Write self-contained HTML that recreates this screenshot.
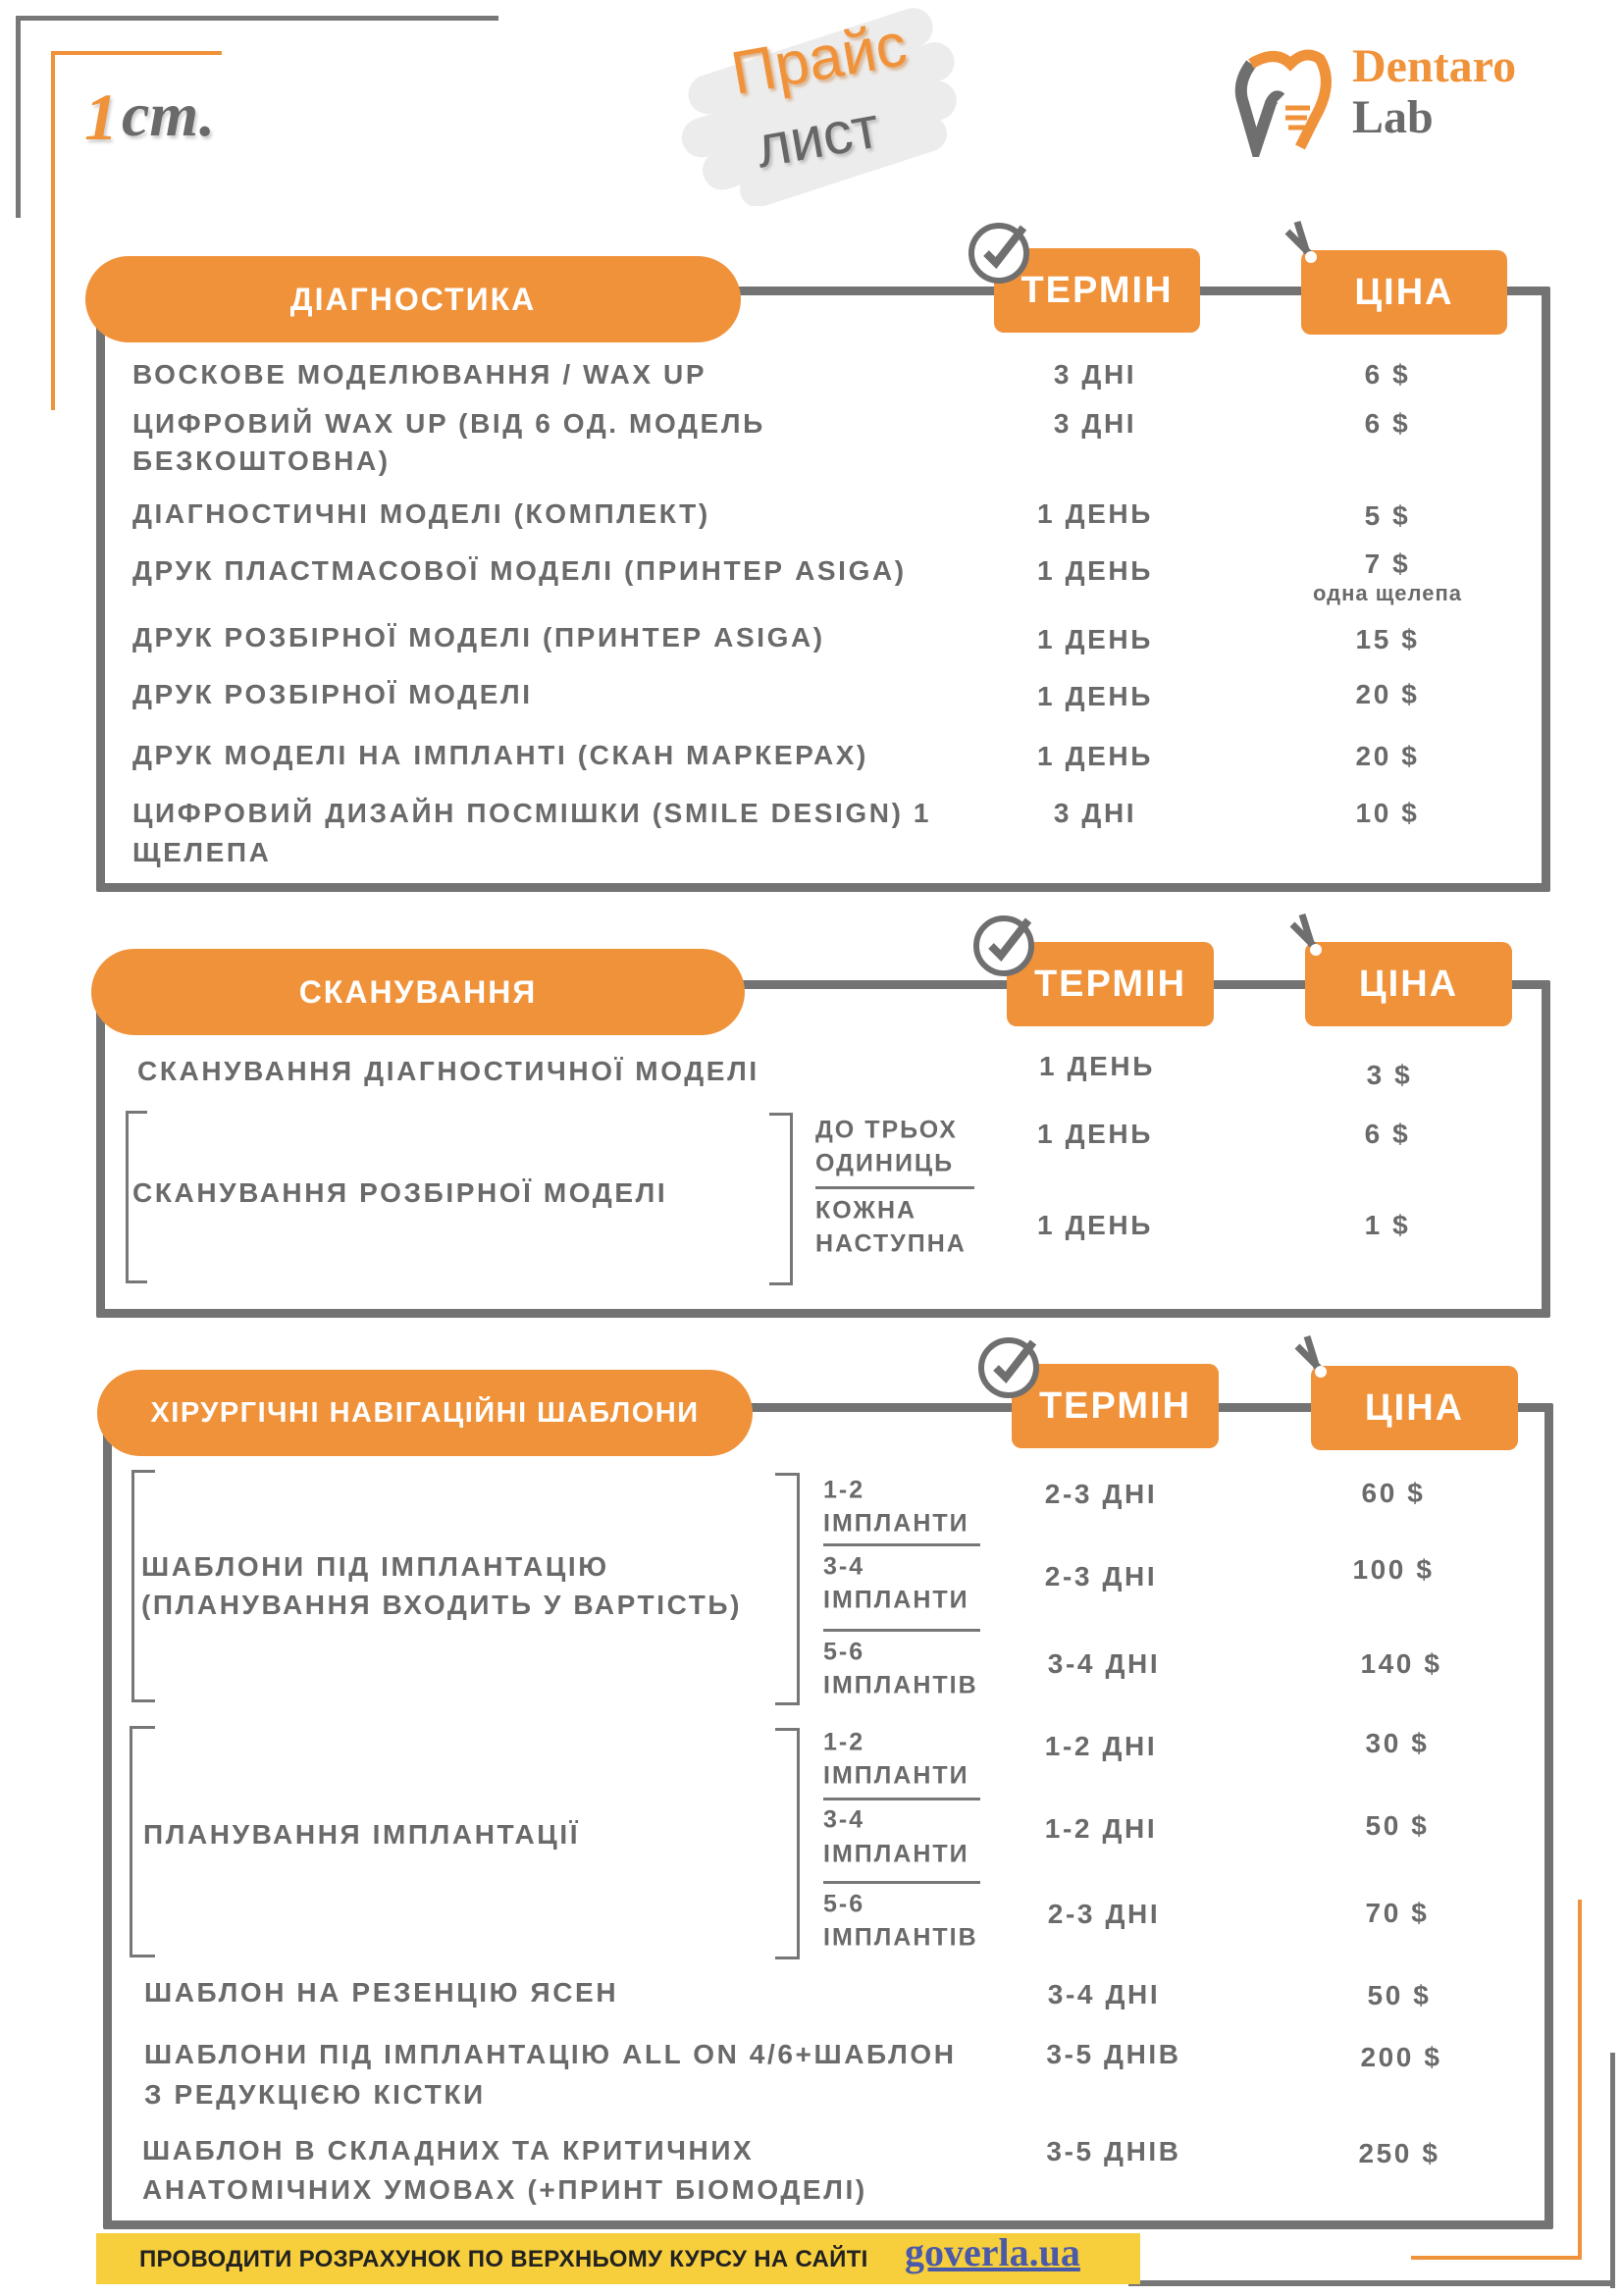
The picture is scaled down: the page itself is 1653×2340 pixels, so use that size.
<!DOCTYPE html>
<html><head><meta charset="utf-8">
<style>
*{margin:0;padding:0;box-sizing:border-box}
body{width:1653px;height:2340px;background:#fff;position:relative;overflow:hidden;font-family:"Liberation Sans","DejaVu Sans",sans-serif}
.a{position:absolute}
.t{position:absolute;transform:translateY(-50%);color:#6a6a6a;font-weight:bold;font-size:28px;letter-spacing:2.6px;white-space:nowrap;line-height:1}
.c{width:300px;text-align:center}
.s{font-size:25px;letter-spacing:2px}
.box{position:absolute;border:9px solid #737373;border-radius:2px}
.pill{position:absolute;background:#f0923a;border-radius:44px;color:#fff;font-weight:bold;font-size:32px;letter-spacing:2px;display:flex;align-items:center;justify-content:center}
.hd{position:absolute;background:#f0923a;border-radius:10px;color:#fff;font-weight:bold;font-size:38px;letter-spacing:2px;display:flex;align-items:center;justify-content:center}
.br{position:absolute;border:3px solid #777}
.ln{position:absolute;height:3px;background:#777}
</style></head><body>
<div class="a" style="left:18px;top:16px;width:490px;height:5px;background:#777"></div>
<div class="a" style="left:16px;top:16px;width:5px;height:206px;background:#777"></div>
<div class="a" style="left:52px;top:52px;width:174px;height:4px;background:#f0923a"></div>
<div class="a" style="left:52px;top:52px;width:4px;height:366px;background:#f0923a"></div>
<div class="a" style="left:86px;top:80px;font-family:'Liberation Serif',serif;font-style:italic;font-weight:bold;font-size:68px;color:#f0923a;text-shadow:2px 3px 3px #ccc">1</div>
<div class="a" style="left:124px;top:80px;font-family:'Liberation Serif',serif;font-style:italic;font-weight:bold;font-size:64px;color:#6a6a6a;text-shadow:2px 3px 3px #ccc">ст.</div>
<svg class="a" style="left:680px;top:0" width="320" height="210">
<g fill="#ececec" transform="rotate(-18 160 105)">
<rect x="30" y="40" width="260" height="40" rx="20"/><rect x="10" y="80" width="290" height="40" rx="20"/><rect x="20" y="118" width="270" height="40" rx="20"/><rect x="50" y="150" width="220" height="36" rx="18"/></g></svg>
<div class="a" style="left:745px;top:25px;font-size:62px;color:#f0923a;transform:rotate(-10deg);text-shadow:2px 3px 3px #d9b08a">Прайс</div>
<div class="a" style="left:770px;top:105px;font-size:60px;color:#666;transform:rotate(-10deg);text-shadow:2px 3px 3px #bbb">лист</div>
<svg class="a" style="left:1255px;top:45px" width="120" height="115">
<path d="M20 20 Q5 40 12 60 L25 105 L40 60 Q45 50 50 55" stroke="#6f6f6f" stroke-width="12" fill="none"/>
<path d="M20 20 Q45 5 60 20 Q75 5 90 15 Q105 40 85 75 L70 105" stroke="#f0923a" stroke-width="11" fill="none"/>
<path d="M55 65 h25 M55 75 h22 M58 85 h18" stroke="#f0923a" stroke-width="5"/></svg>
<div class="a" style="left:1378px;top:40px;font-family:'Liberation Serif',serif;font-weight:bold;font-size:48px;color:#f0923a">Dentaro</div>
<div class="a" style="left:1378px;top:92px;font-family:'Liberation Serif',serif;font-weight:bold;font-size:48px;color:#6a6a6a">Lab</div>

<!-- SECTION 1 -->
<div class="box" style="left:98px;top:292px;width:1482px;height:617px"></div>
<div class="pill" style="left:87px;top:261px;width:668px;height:88px">ДІАГНОСТИКА</div>
<div class="hd" style="left:1013px;top:253px;width:210px;height:86px">ТЕРМІН</div>
<div class="hd" style="left:1326px;top:255px;width:210px;height:86px">ЦІНА</div>
<svg class="a" style="left:985px;top:220px" width="70" height="70"><circle cx="33" cy="38" r="28" fill="#fff" stroke="#6f6f6f" stroke-width="6"/><path d="M20 38 l10 10 l28 -36" stroke="#6f6f6f" stroke-width="8" fill="none"/></svg>
<svg class="a" style="left:1300px;top:220px" width="60" height="60"><path d="M12 16 l22 22 M22 6 l10 32" stroke="#6f6f6f" stroke-width="7"/><circle cx="36" cy="42" r="6" fill="#fff"/></svg>
<div class="t" style="left:135px;top:382px">ВОСКОВЕ МОДЕЛЮВАННЯ / WAX UP</div>
<div class="t c" style="left:966px;top:382px">3 ДНІ</div><div class="t c" style="left:1264px;top:382px">6 $</div>
<div class="t" style="left:135px;top:432px">ЦИФРОВИЙ WAX UP (ВІД 6 ОД. МОДЕЛЬ</div>
<div class="t" style="left:135px;top:470px">БЕЗКОШТОВНА)</div>
<div class="t c" style="left:966px;top:432px">3 ДНІ</div><div class="t c" style="left:1264px;top:432px">6 $</div>
<div class="t" style="left:135px;top:524px">ДІАГНОСТИЧНІ МОДЕЛІ (КОМПЛЕКТ)</div>
<div class="t c" style="left:966px;top:524px">1 ДЕНЬ</div><div class="t c" style="left:1264px;top:526px">5 $</div>
<div class="t" style="left:135px;top:582px">ДРУК ПЛАСТМАСОВОЇ МОДЕЛІ (ПРИНТЕР ASIGA)</div>
<div class="t c" style="left:966px;top:582px">1 ДЕНЬ</div><div class="t c" style="left:1264px;top:575px">7 $</div>
<div class="t c" style="left:1264px;top:605px;font-size:22px;letter-spacing:1px">одна щелепа</div>
<div class="t" style="left:135px;top:650px">ДРУК РОЗБІРНОЇ МОДЕЛІ (ПРИНТЕР ASIGA)</div>
<div class="t c" style="left:966px;top:652px">1 ДЕНЬ</div><div class="t c" style="left:1264px;top:652px">15 $</div>
<div class="t" style="left:135px;top:708px">ДРУК РОЗБІРНОЇ МОДЕЛІ</div>
<div class="t c" style="left:966px;top:710px">1 ДЕНЬ</div><div class="t c" style="left:1264px;top:708px">20 $</div>
<div class="t" style="left:135px;top:770px">ДРУК МОДЕЛІ НА ІМПЛАНТІ (СКАН МАРКЕРАХ)</div>
<div class="t c" style="left:966px;top:771px">1 ДЕНЬ</div><div class="t c" style="left:1264px;top:771px">20 $</div>
<div class="t" style="left:135px;top:829px">ЦИФРОВИЙ ДИЗАЙН ПОСМІШКИ (SMILE DESIGN) 1</div>
<div class="t" style="left:135px;top:869px">ЩЕЛЕПА</div>
<div class="t c" style="left:966px;top:829px">3 ДНІ</div><div class="t c" style="left:1264px;top:829px">10 $</div>

<!-- SECTION 2 -->
<div class="box" style="left:98px;top:999px;width:1482px;height:344px"></div>
<div class="pill" style="left:93px;top:967px;width:666px;height:88px">СКАНУВАННЯ</div>
<div class="hd" style="left:1026px;top:960px;width:211px;height:86px">ТЕРМІН</div>
<div class="hd" style="left:1330px;top:960px;width:211px;height:86px">ЦІНА</div>
<svg class="a" style="left:990px;top:926px" width="70" height="70"><circle cx="33" cy="38" r="28" fill="#fff" stroke="#6f6f6f" stroke-width="6"/><path d="M20 38 l10 10 l28 -36" stroke="#6f6f6f" stroke-width="8" fill="none"/></svg>
<svg class="a" style="left:1305px;top:926px" width="60" height="60"><path d="M12 16 l22 22 M22 6 l10 32" stroke="#6f6f6f" stroke-width="7"/><circle cx="36" cy="42" r="6" fill="#fff"/></svg>
<div class="t" style="left:140px;top:1092px">СКАНУВАННЯ ДІАГНОСТИЧНОЇ МОДЕЛІ</div>
<div class="t c" style="left:968px;top:1087px">1 ДЕНЬ</div><div class="t c" style="left:1266px;top:1096px">3 $</div>
<div class="br" style="left:128px;top:1132px;width:22px;height:176px;border-right:none"></div>
<div class="br" style="left:784px;top:1134px;width:24px;height:176px;border-left:none"></div>
<div class="t" style="left:135px;top:1216px">СКАНУВАННЯ РОЗБІРНОЇ МОДЕЛІ</div>
<div class="t s" style="left:831px;top:1152px">ДО ТРЬОХ</div>
<div class="t s" style="left:831px;top:1186px">ОДИНИЦЬ</div>
<div class="ln" style="left:831px;top:1209px;width:162px"></div>
<div class="t s" style="left:831px;top:1234px">КОЖНА</div>
<div class="t s" style="left:831px;top:1268px">НАСТУПНА</div>
<div class="t c" style="left:966px;top:1156px">1 ДЕНЬ</div><div class="t c" style="left:1264px;top:1156px">6 $</div>
<div class="t c" style="left:966px;top:1249px">1 ДЕНЬ</div><div class="t c" style="left:1264px;top:1249px">1 $</div>

<!-- SECTION 3 -->
<div class="box" style="left:105px;top:1430px;width:1478px;height:842px"></div>
<div class="pill" style="left:99px;top:1396px;width:668px;height:88px;font-size:29px;letter-spacing:1.5px">ХІРУРГІЧНІ НАВІГАЦІЙНІ ШАБЛОНИ</div>
<div class="hd" style="left:1031px;top:1390px;width:211px;height:86px">ТЕРМІН</div>
<div class="hd" style="left:1336px;top:1392px;width:211px;height:86px">ЦІНА</div>
<svg class="a" style="left:995px;top:1356px" width="70" height="70"><circle cx="33" cy="38" r="28" fill="#fff" stroke="#6f6f6f" stroke-width="6"/><path d="M20 38 l10 10 l28 -36" stroke="#6f6f6f" stroke-width="8" fill="none"/></svg>
<svg class="a" style="left:1310px;top:1356px" width="60" height="60"><path d="M12 16 l22 22 M22 6 l10 32" stroke="#6f6f6f" stroke-width="7"/><circle cx="36" cy="42" r="6" fill="#fff"/></svg>

<div class="br" style="left:134px;top:1498px;width:24px;height:237px;border-right:none"></div>
<div class="br" style="left:790px;top:1501px;width:25px;height:237px;border-left:none"></div>
<div class="t" style="left:144px;top:1597px">ШАБЛОНИ ПІД ІМПЛАНТАЦІЮ</div>
<div class="t" style="left:144px;top:1636px">(ПЛАНУВАННЯ ВХОДИТЬ У ВАРТІСТЬ)</div>
<div class="t s" style="left:839px;top:1519px">1-2</div>
<div class="t s" style="left:839px;top:1553px">ІМПЛАНТИ</div>
<div class="ln" style="left:839px;top:1573px;width:160px"></div>
<div class="t s" style="left:839px;top:1597px">3-4</div>
<div class="t s" style="left:839px;top:1631px">ІМПЛАНТИ</div>
<div class="ln" style="left:839px;top:1660px;width:160px"></div>
<div class="t s" style="left:839px;top:1684px">5-6</div>
<div class="t s" style="left:839px;top:1718px">ІМПЛАНТІВ</div>
<div class="t c" style="left:972px;top:1523px">2-3 ДНІ</div><div class="t c" style="left:1270px;top:1522px">60 $</div>
<div class="t c" style="left:972px;top:1607px">2-3 ДНІ</div><div class="t c" style="left:1270px;top:1600px">100 $</div>
<div class="t c" style="left:975px;top:1696px">3-4 ДНІ</div><div class="t c" style="left:1278px;top:1696px">140 $</div>

<div class="br" style="left:132px;top:1759px;width:26px;height:236px;border-right:none"></div>
<div class="br" style="left:790px;top:1761px;width:25px;height:236px;border-left:none"></div>
<div class="t" style="left:146px;top:1870px">ПЛАНУВАННЯ ІМПЛАНТАЦІЇ</div>
<div class="t s" style="left:839px;top:1776px">1-2</div>
<div class="t s" style="left:839px;top:1810px">ІМПЛАНТИ</div>
<div class="ln" style="left:839px;top:1832px;width:160px"></div>
<div class="t s" style="left:839px;top:1855px">3-4</div>
<div class="t s" style="left:839px;top:1890px">ІМПЛАНТИ</div>
<div class="ln" style="left:839px;top:1917px;width:160px"></div>
<div class="t s" style="left:839px;top:1941px">5-6</div>
<div class="t s" style="left:839px;top:1975px">ІМПЛАНТІВ</div>
<div class="t c" style="left:972px;top:1780px">1-2 ДНІ</div><div class="t c" style="left:1274px;top:1777px">30 $</div>
<div class="t c" style="left:972px;top:1864px">1-2 ДНІ</div><div class="t c" style="left:1274px;top:1861px">50 $</div>
<div class="t c" style="left:975px;top:1951px">2-3 ДНІ</div><div class="t c" style="left:1274px;top:1950px">70 $</div>

<div class="t" style="left:147px;top:2031px">ШАБЛОН НА РЕЗЕНЦІЮ ЯСЕН</div>
<div class="t c" style="left:975px;top:2033px">3-4 ДНІ</div><div class="t c" style="left:1276px;top:2034px">50 $</div>
<div class="t" style="left:147px;top:2094px">ШАБЛОНИ ПІД ІМПЛАНТАЦІЮ ALL ON 4/6+ШАБЛОН</div>
<div class="t" style="left:147px;top:2135px">З РЕДУКЦІЄЮ КІСТКИ</div>
<div class="t c" style="left:985px;top:2094px">3-5 ДНІВ</div><div class="t c" style="left:1278px;top:2097px">200 $</div>
<div class="t" style="left:145px;top:2192px">ШАБЛОН В СКЛАДНИХ ТА КРИТИЧНИХ</div>
<div class="t" style="left:145px;top:2232px">АНАТОМІЧНИХ УМОВАХ (+ПРИНТ БІОМОДЕЛІ)</div>
<div class="t c" style="left:985px;top:2193px">3-5 ДНІВ</div><div class="t c" style="left:1276px;top:2195px">250 $</div>

<div class="a" style="left:1608px;top:1936px;width:4px;height:366px;background:#f0923a"></div>
<div class="a" style="left:1438px;top:2299px;width:174px;height:4px;background:#f0923a"></div>
<div class="a" style="left:1641px;top:2092px;width:5px;height:240px;background:#777"></div>
<div class="a" style="left:1150px;top:2324px;width:496px;height:6px;background:#777"></div>
<div class="a" style="left:98px;top:2276px;width:1064px;height:52px;background:#f7cf3c"></div>
<div class="a" style="left:142px;top:2289px;font-size:24px;font-weight:bold;color:#222;letter-spacing:0.3px">ПРОВОДИТИ РОЗРАХУНОК ПО ВЕРХНЬОМУ КУРСУ НА САЙТІ</div>
<div class="a" style="left:922px;top:2272px;font-family:'Liberation Serif',serif;font-size:40px;color:#4a5aa8;text-decoration:underline;font-weight:bold">goverla.ua</div>
</body></html>
